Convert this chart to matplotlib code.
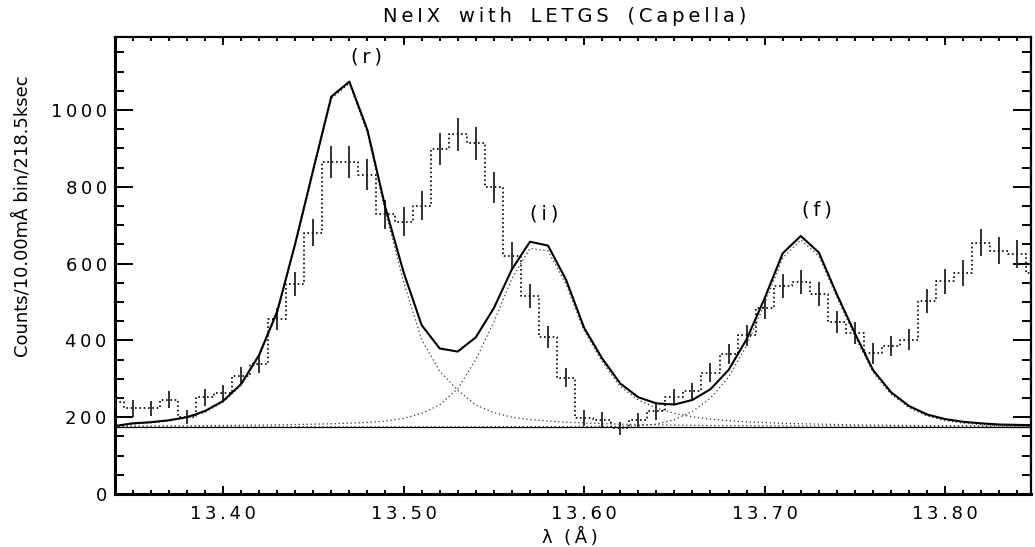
import matplotlib
matplotlib.use("Agg")
import matplotlib.pyplot as plt
from matplotlib.ticker import MultipleLocator, FuncFormatter

# ---------------- data ----------------
wavelength = [13.34, 13.35, 13.36, 13.37, 13.38, 13.39, 13.40, 13.41, 13.42, 13.43,
              13.44, 13.45, 13.46, 13.47, 13.48, 13.49, 13.50, 13.51, 13.52, 13.53,
              13.54, 13.55, 13.56, 13.57, 13.58, 13.59, 13.60, 13.61, 13.62, 13.63,
              13.64, 13.65, 13.66, 13.67, 13.68, 13.69, 13.70, 13.71, 13.72, 13.73,
              13.74, 13.75, 13.76, 13.77, 13.78, 13.79, 13.80, 13.81, 13.82, 13.83,
              13.84, 13.85]

counts = [239, 223, 223, 246, 201, 252, 262, 307, 339, 456,
          547, 681, 865, 865, 832, 729, 709, 751, 898, 937,
          913, 799, 620, 515, 408, 303, 198, 194, 171, 193,
          217, 252, 268, 316, 365, 414, 484, 542, 552, 521,
          447, 419, 366, 386, 402, 503, 554, 576, 654, 634,
          625, 576]

count_err = [22, 22.6, 18.7, 21.7, 18.7, 21.7, 20.8, 22.6, 23.9, 29,
             31.7, 35.6, 40.8, 41.7, 40.4, 37.8, 37.8, 38.2, 42, 42.5,
             42.5, 40, 36.9, 31.7, 28.6, 24.7, 20.4, 20, 17.4, 19,
             23, 20.8, 21.7, 25.2, 26, 27.3, 29.5, 31.7, 31.7, 30.4,
             28.5, 28, 27, 26.7, 28, 31, 32.3, 33.2, 35.4, 34.5,
             35.4, 33]

model_total = [177, 184, 187, 192, 200, 216, 242, 286, 362, 475,
               652, 845, 1035, 1074, 948, 745, 578, 440, 379, 371,
               408, 484, 585, 657, 647, 558, 433, 353, 288, 252,
               236, 233, 245, 273, 323, 403, 510, 627, 672, 629,
               520, 418, 323, 265, 229, 207, 195, 188, 184, 181,
               180, 179]

comp_r = [176, 182, 185, 190, 198, 213, 239, 283, 358, 470,
          646, 838, 1030, 1069, 940, 733, 553, 402, 320, 270,
          232, 212, 200, 194, 190, 187, 185, 183.5, 182, 181,
          180, 179.5, 179, 178.5, 178, 178, 177.5, 177.5, 177, 177,
          177, 176.5, 176.5, 176.5, 176, 176, 176, 176, 176, 175.5,
          175.5, 175.5]

comp_i = [176.5, 177, 177, 177.5, 177.5, 178, 178.5, 179, 179.5, 180,
          181, 182, 183, 184.5, 186.5, 190, 197, 210, 232, 274,
          350, 448, 561, 640, 633, 546, 425, 345, 280, 245,
          224, 210, 201, 195, 191, 188, 186, 184, 183, 182,
          181, 180, 179.5, 179, 178.5, 178, 178, 177.5, 177.5, 177,
          177, 177]

comp_f = [175, 175, 175, 175, 175, 175, 175, 175, 175, 175,
          175, 175, 175, 175, 175, 175, 175, 175, 175, 175,
          175, 175.5, 175.5, 175.5, 175.5, 175.5, 176, 176, 176.5, 177.5,
          182, 193.5, 215, 249.5, 304, 387, 496, 615, 662, 620,
          512, 411, 317, 259.5, 224.5, 203, 191, 184.5, 180.5, 178.5,
          177.5, 176.5]

continuum = 175

line_names = ["(r)", "(i)", "(f)"]
line_name_x = [13.4794, 13.5778, 13.7289]
line_name_y = [1138, 729, 740]

title_text = "NeIX with LETGS (Capella)"
xlabel_text = "\u03bb (\u00c5)"
ylabel_text = "Counts/10.00m\u00c5 bin/218.5ksec"

# ---------------- helpers ----------------
THIN = "\u2009"


def spaced(s, word_gap=2):
    words = s.split(" ")
    return (" " * word_gap).join(THIN.join(w) for w in words)


# ---------------- figure ----------------
W, H = 1035, 547
fig = plt.figure(figsize=(W / 100, H / 100), dpi=100)
ax = fig.add_axes([115 / W, 1 - 494 / H, (1031 - 115) / W, (494 - 36.7) / H])

# continuum
ax.axhline(continuum, color="black", lw=0.9, zorder=2)

# components (dotted, thin grey)
for comp in (comp_r, comp_i, comp_f):
    ax.plot(wavelength, comp, color="#333333", lw=0.9,
            linestyle=(0, (1, 2.2)), zorder=2)

# data histogram (dotted)
ax.step(wavelength, counts, where="mid", color="black", lw=1.2,
        linestyle=(0, (1, 1.6)), zorder=3)
ax.errorbar(wavelength, counts, yerr=count_err, fmt="none",
            ecolor="#222222", elinewidth=1.3, capsize=0, zorder=3)

# total model
ax.plot(wavelength, model_total, color="black", lw=1.5, zorder=4)

# line names
for name, x, y in zip(line_names, line_name_x, line_name_y):
    ax.text(x, y, spaced(name), ha="center", va="center",
            fontsize=14, family="DejaVu Sans")

ax.set_xlim(13.3402, 13.8475)
ax.set_ylim(0, 1191)

ax.xaxis.set_major_locator(MultipleLocator(0.1))
ax.xaxis.set_minor_locator(MultipleLocator(0.01))
ax.yaxis.set_major_locator(MultipleLocator(200))
ax.yaxis.set_minor_locator(MultipleLocator(50))

ax.xaxis.set_major_formatter(FuncFormatter(lambda v, p: spaced(f"{v:.2f}")))
ax.yaxis.set_major_formatter(FuncFormatter(lambda v, p: spaced(f"{v:.0f}")))

ax.tick_params(axis="both", which="both", direction="in",
               top=True, right=True, width=1.4, colors="black")
ax.tick_params(axis="x", which="major", length=6, pad=8, labelsize=13)
ax.tick_params(axis="x", which="minor", length=3)
ax.tick_params(axis="y", which="major", length=13, pad=6, labelsize=13)
ax.tick_params(axis="y", which="minor", length=6.5)

for lab in ax.get_xticklabels() + ax.get_yticklabels():
    lab.set_family("DejaVu Sans")

for side in ("left", "bottom"):
    ax.spines[side].set_linewidth(2.2)
for side in ("top", "right"):
    ax.spines[side].set_linewidth(1.6)

fig.text(565 / W, 1 - 17 / H, spaced(title_text, word_gap=3), ha="center",
         va="center", fontsize=14, family="DejaVu Sans")
fig.text(570 / W, 1 - 537 / H, spaced(xlabel_text), ha="center", va="center",
         fontsize=13, family="DejaVu Sans")
fig.text(22 / W, 1 - 216 / H, ylabel_text, ha="center", va="center",
         rotation=90, fontsize=13, family=["Liberation Sans Narrow", "DejaVu Sans"])

fig.savefig("out.png", dpi=100)
